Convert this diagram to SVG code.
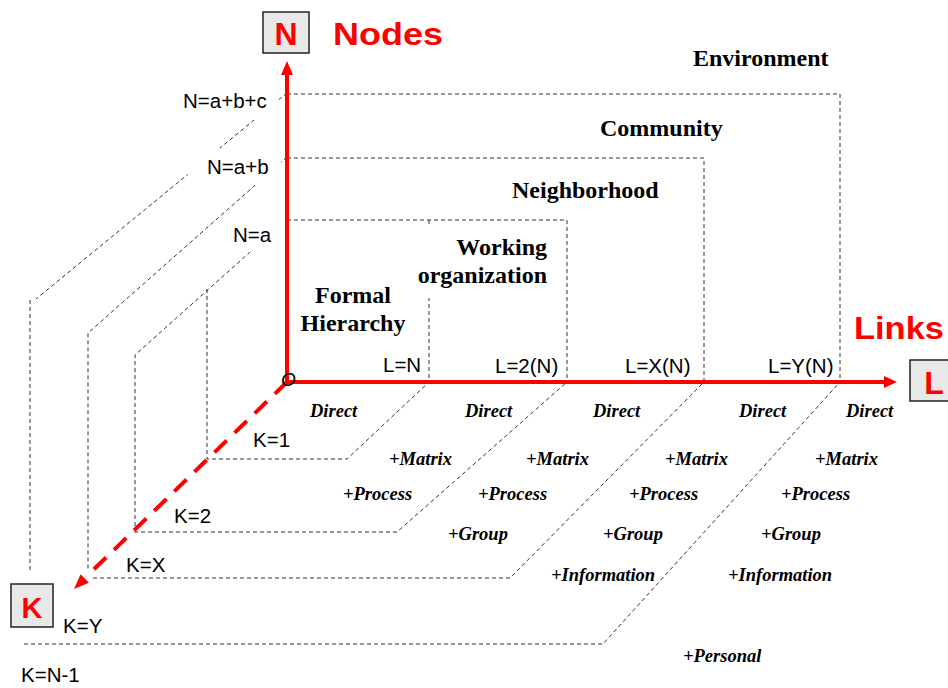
<svg xmlns="http://www.w3.org/2000/svg" width="948" height="688" viewBox="0 0 948 688">
  <style>
    .dash { fill: none; stroke: #333; stroke-width: 1; stroke-dasharray: 4 3; }
    .axis { fill: none; stroke: #ff0000; stroke-width: 4; }
    .head { fill: #ff0000; stroke: none; }
    .box { fill: #e8e8e8; stroke: #222; stroke-width: 1.5; }
    .bg { fill: #ffffff; stroke: none; }
    .ax { font-family: "Liberation Sans", Arial, sans-serif; font-weight: bold; font-size: 32px; fill: #ff0000; }
    .lbl { font-family: "Liberation Sans", Arial, sans-serif; font-size: 20.5px; fill: #000; }
    .ttl { font-family: "Liberation Serif", "Times New Roman", serif; font-weight: bold; font-size: 24px; fill: #000; }
    .lnk { font-family: "Liberation Serif", "Times New Roman", serif; font-weight: bold; font-style: italic; font-size: 18.5px; fill: #000; }
  </style>
  <rect width="948" height="688" fill="#ffffff"/>

  <!-- connectors: nested dotted boxes, depth planes and the three axes -->
  <g id="connectors">
    <!-- boxes standing on the L axis -->
    <path class="dash" d="M287,94 H840 V382"/>
    <path class="dash" d="M287,158 H704 V382"/>
    <path class="dash" d="M287,220 H567 V382"/>
    <path class="dash" d="M429,220 V382"/>
    <!-- receding edges towards K -->
    <path class="dash" d="M287,93 L36,299"/>
    <path class="dash" d="M30,300 V572"/>
    <path class="dash" d="M287,157 L88,333 V570"/>
    <path class="dash" d="M287,219 L135,355 V529"/>
    <!-- floor planes -->
    <path class="dash" d="M207,289 V459 H347 L429,382"/>
    <path class="dash" d="M134,532 H397 L567,382"/>
    <path class="dash" d="M93,578 H510 L704,382"/>
    <path class="dash" d="M24,644 H603 L840,382"/>
    <!-- N axis -->
    <line class="axis" x1="287" y1="384" x2="287" y2="73"/>
    <polygon class="head" points="287,61 281,75 293,75"/>
    <!-- L axis -->
    <line class="axis" x1="285" y1="382" x2="886" y2="382"/>
    <polygon class="head" points="897,382 884,376 884,388"/>
    <!-- K axis -->
    <line class="axis" x1="287" y1="382" x2="86" y2="577" stroke-dasharray="17 11"/>
    <polygon class="head" points="74,589 80.6,574.2 89,582.8"/>
  </g>

  <g id="axis-n">
    <rect class="box" x="263" y="12" width="46" height="41"/>
    <text class="ax" x="286" y="45" text-anchor="middle">N</text>
    <text class="ax" x="333" y="45" textLength="110" lengthAdjust="spacingAndGlyphs">Nodes</text>
  </g>
  <g id="axis-l">
    <rect class="box" x="910" y="360" width="46" height="41"/>
    <text class="ax" x="934" y="394" text-anchor="middle">L</text>
    <text class="ax" x="854" y="339" textLength="90" lengthAdjust="spacingAndGlyphs">Links</text>
  </g>
  <g id="axis-k">
    <rect class="box" x="11" y="584" width="42" height="43"/>
    <text class="ax" x="32" y="618" text-anchor="middle" style="font-size:29px">K</text>
  </g>
  <g id="origin">
    <text x="281" y="386" style="font-family:'Liberation Sans',Arial,sans-serif;font-style:italic;font-size:19px;fill:#000">O</text>
  </g>

  <!-- node-count levels -->
  <g id="level-abc">
    <rect class="bg" x="178" y="84" width="101" height="36"/>
    <text class="lbl" x="183" y="108">N=a+b+c</text>
  </g>
  <g id="level-ab">
    <rect class="bg" x="188" y="148" width="93" height="37"/>
    <text class="lbl" x="207" y="174">N=a+b</text>
  </g>
  <g id="level-a">
    <rect class="bg" x="228" y="212" width="57" height="40"/>
    <text class="lbl" x="233" y="242">N=a</text>
  </g>

  <!-- link-count levels -->
  <g id="l-n"><text class="lbl" x="383" y="372">L=N</text></g>
  <g id="l-2n"><text class="lbl" x="495" y="373">L=2(N)</text></g>
  <g id="l-xn"><text class="lbl" x="625" y="373">L=X(N)</text></g>
  <g id="l-yn"><text class="lbl" x="768" y="373">L=Y(N)</text></g>

  <!-- depth levels -->
  <g id="k-1"><text class="lbl" x="253" y="447">K=1</text></g>
  <g id="k-2"><text class="lbl" x="174" y="523">K=2</text></g>
  <g id="k-x"><text class="lbl" x="126" y="572">K=X</text></g>
  <g id="k-y"><text class="lbl" x="63" y="633">K=Y</text></g>
  <g id="k-n1"><text class="lbl" x="21" y="682">K=N-1</text></g>

  <!-- organisational scopes -->
  <g id="environment"><text class="ttl" x="693" y="66">Environment</text></g>
  <g id="community"><text class="ttl" x="600" y="136">Community</text></g>
  <g id="neighborhood"><text class="ttl" x="512" y="198">Neighborhood</text></g>
  <g id="working-organization">
    <rect class="bg" x="415" y="227" width="145" height="71"/>
    <text class="ttl" x="547" y="255" text-anchor="end">Working</text>
    <text class="ttl" x="547" y="283" text-anchor="end">organization</text>
  </g>
  <g id="formal-hierarchy">
    <text class="ttl" x="353" y="303" text-anchor="middle">Formal</text>
    <text class="ttl" x="353" y="331" text-anchor="middle">Hierarchy</text>
  </g>

  <!-- link types per zone -->
  <g id="links-zone-1">
    <text class="lnk" x="310" y="417">Direct</text>
  </g>
  <g id="links-zone-2">
    <text class="lnk" x="465" y="417">Direct</text>
    <text class="lnk" x="389" y="465">+Matrix</text>
    <text class="lnk" x="343" y="500">+Process</text>
  </g>
  <g id="links-zone-3">
    <text class="lnk" x="593" y="417">Direct</text>
    <text class="lnk" x="526" y="465">+Matrix</text>
    <text class="lnk" x="478" y="500">+Process</text>
    <text class="lnk" x="448" y="540">+Group</text>
  </g>
  <g id="links-zone-4">
    <text class="lnk" x="739" y="417">Direct</text>
    <text class="lnk" x="665" y="465">+Matrix</text>
    <text class="lnk" x="629" y="500">+Process</text>
    <text class="lnk" x="603" y="540">+Group</text>
    <text class="lnk" x="551" y="581">+Information</text>
  </g>
  <g id="links-zone-5">
    <text class="lnk" x="846" y="417">Direct</text>
    <text class="lnk" x="815" y="465">+Matrix</text>
    <text class="lnk" x="781" y="500">+Process</text>
    <text class="lnk" x="761" y="540">+Group</text>
    <text class="lnk" x="728" y="581">+Information</text>
    <text class="lnk" x="683" y="662">+Personal</text>
  </g>
</svg>
